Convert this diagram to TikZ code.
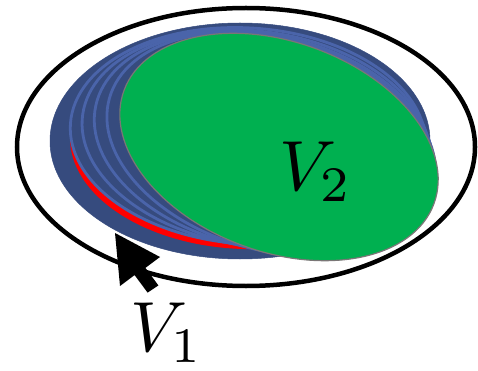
\documentclass[tikz,border=0pt]{standalone}
\begin{document}
\begin{tikzpicture}[x=1pt,y=-1pt]
\definecolor{bdark}{HTML}{364B7E}
\definecolor{blight}{HTML}{4A64AA}
\definecolor{vgreen}{HTML}{00B050}
\definecolor{gborder}{HTML}{7A7676}
\tikzset{lbl/.style={inner sep=0pt,scale=7.1},
  bluelayer/.style={fill=bdark,draw=blight,line width=2.8pt}}
\useasboundingbox (0,0) rectangle (478,371);
% outer black ellipse
\draw[line width=4.5pt] (246,147) ellipse [x radius=229, y radius=139];
% stacked layers: center x, center y, rx, ry, rotation, style
\newcommand\myLayer[6]{%
  \path[#6,rotate around={#5:(#1,#2)}] (#1,#2) ellipse [x radius=#3, y radius=#4];%
}
\myLayer{240}{141}{190}{118}{0}{fill=bdark,draw=bdark,line width=0.5pt}
\myLayer{245}{142}{175}{107}{-2}{fill=red}
\myLayer{248}{136}{178}{108}{-4}{bluelayer}
\myLayer{255.75}{138.75}{174.75}{107.25}{-8}{bluelayer}
\myLayer{263.5}{141.5}{171.5}{106.5}{-12}{bluelayer}
\myLayer{271.25}{144.25}{168.25}{105.75}{-16}{bluelayer}
% green ellipse
\draw[fill=vgreen,draw=gborder,line width=1.2pt,rotate around={-20:(279,147)}] (279,147) ellipse [x radius=165, y radius=105];
% arrow
\coordinate (tip) at (115,233);
\fill[black] (tip) -- (120,286) -- (134.6,275.1) -- (147.6,292.6) -- (158.4,285.4) -- (145.4,267.9) -- (160,257) -- cycle;
% labels
\node[lbl] (v2) at (316,172) {$V_2$};
\node[lbl] (v1) at (167,333) {$V_1$};
\end{tikzpicture}
\end{document}
